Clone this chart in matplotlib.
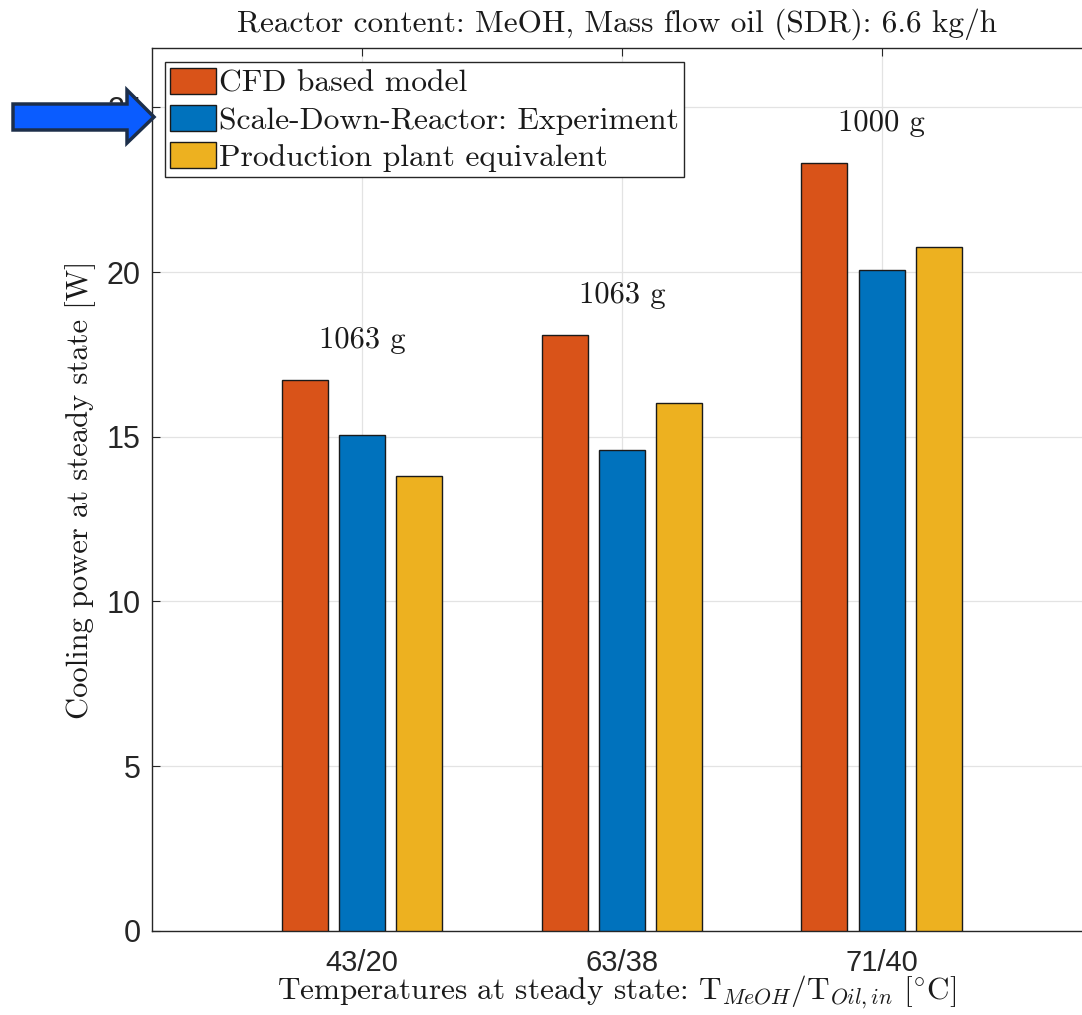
import matplotlib
matplotlib.use("Agg")
import matplotlib.pyplot as plt
import numpy as np
from matplotlib.patches import Polygon

# ---- data ----
categories = ["43/20", "63/38", "71/40"]
series_names = ["CFD based model", "Scale-Down-Reactor: Experiment", "Production plant equivalent"]
cfd_model = [16.72, 18.09, 23.31]
sdr_experiment = [15.05, 14.60, 20.06]
production_plant = [13.81, 16.02, 20.76]
mass_labels = ["1063 g", "1063 g", "1000 g"]
yticks = [0, 5, 10, 15, 20, 25]

colors = ["#D95319", "#0072BD", "#EDB120"]

plt.rcParams["mathtext.fontset"] = "cm"
plt.rcParams["axes.unicode_minus"] = False
serif = ["cmr10", "DejaVu Serif"]
tickfont = ["Liberation Sans", "DejaVu Sans"]

fig = plt.figure(figsize=(10.82, 10.15), dpi=100)
ax = fig.add_axes([0.1405, 0.0828, 0.8595, 0.8699])

x = np.arange(1, len(categories) + 1)
offset = 0.221
width = 0.177
series = [cfd_model, sdr_experiment, production_plant]
for i, (vals, name, c) in enumerate(zip(series, series_names, colors)):
    ax.bar(x + (i - 1) * offset, vals, width, color=c, edgecolor="#1a1a1a",
           linewidth=1.0, label=name, zorder=3)

for xi, lab, v in zip(x, mass_labels, cfd_model):
    ax.text(xi, v + 1.2, lab, ha="center", va="center", fontsize=22,
            family=serif, color="#1a1a1a", zorder=4)

ax.set_xlim(0.192, 3.77)
ax.set_ylim(0, 26.8)
ax.set_xticks(x)
ax.set_xticklabels(categories)
ax.set_yticks(yticks)
for lab in ax.get_xticklabels():
    lab.set_family(tickfont)
    lab.set_fontsize(21)
    lab.set_color("#262626")
for lab in ax.get_yticklabels():
    lab.set_family(tickfont)
    lab.set_fontsize(22)
    lab.set_color("#262626")

ax.tick_params(direction="in", length=6, width=0.8, top=True, right=False,
               colors="#262626")
ax.tick_params(axis="x", pad=13)
ax.tick_params(axis="y", pad=8)
ax.grid(True, color="#e3e3e3", linewidth=0.9, zorder=0)
ax.set_axisbelow(True)
for s in ax.spines.values():
    s.set_color("#262626")
    s.set_linewidth(1.0)
ax.spines["right"].set_visible(False)

ax.set_title("Reactor content: MeOH, Mass flow oil (SDR): 6.6 kg/h",
             family=serif, fontsize=22.5, color="#1a1a1a", pad=12)
ax.set_ylabel("Cooling power at steady state [W]", family=serif, fontsize=22,
              color="#1a1a1a", labelpad=8)
ax.set_xlabel(r"Temperatures at steady state: $\mathrm{T}_{MeOH}/\mathrm{T}_{Oil,in}$ [$^{\circ}$C]",
              family=serif, fontsize=22.5, color="#1a1a1a", labelpad=-2)

leg = ax.legend(loc="upper left", bbox_to_anchor=(0.014, 0.984), prop={"family": serif, "size": 22.8},
                frameon=True, fancybox=False, edgecolor="#262626", framealpha=1,
                handlelength=1.45, handleheight=0.9, handletextpad=0.08,
                borderpad=0.17, labelspacing=0.22, borderaxespad=0)
leg.get_frame().set_linewidth(1.0)
for t in leg.get_texts():
    t.set_color("#1a1a1a")

# blue arrow annotation (figure pixel fractions)
W, H = 1082.0, 1015.0
pts_px = [(13, 104), (127, 104), (127, 90), (154, 117), (127, 143), (127, 130), (13, 130)]
pts = [(px / W, 1 - py / H) for px, py in pts_px]
arrow = Polygon(pts, closed=True, transform=fig.transFigure, facecolor="#0A5CFF",
                edgecolor="#1C2E4A", linewidth=2.5, zorder=10)
fig.patches.append(arrow)

fig.savefig("out.png", dpi=100)
